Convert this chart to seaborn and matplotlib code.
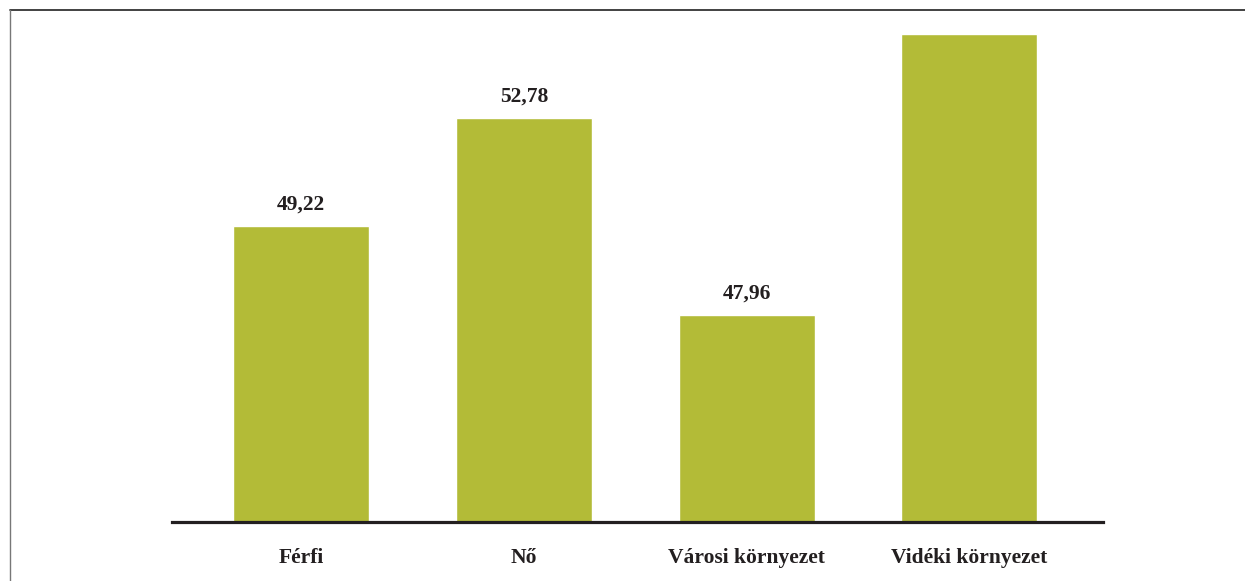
import matplotlib.pyplot as plt
import seaborn as sns
from matplotlib.lines import Line2D

# Categories and values as printed on the chart
categories = ['Férfi', 'Nő', 'Városi környezet', 'Vidéki környezet']
value_labels = ['49,22', '52,78', '47,96', '']
# Bar heights as drawn (the printed values do not share one linear scale)
bar_heights = [29.6, 40.4, 20.7, 48.8]

bar_color = '#b3bb37'
text_color = '#231f20'

sns.set_theme(style='white')
plt.rcParams['font.family'] = ['Liberation Serif', 'DejaVu Serif']

fig = plt.figure(figsize=(12.45, 5.81), dpi=100)
ax = fig.add_axes([0.1382, 0.1015, 0.7478, 0.8812])

sns.barplot(x=categories, y=bar_heights, color=bar_color, width=0.61,
            saturation=1, ax=ax)

ax.set_ylim(0, 51.2)
ax.set_xlim(-0.58, 3.6)

# value labels above the bars
ax.bar_label(ax.containers[0], labels=value_labels, padding=8,
             fontsize=15.5, fontweight='bold', color=text_color)

# styling: only the thick baseline
for side in ['top', 'right', 'left']:
    ax.spines[side].set_visible(False)
ax.spines['bottom'].set_color(text_color)
ax.spines['bottom'].set_linewidth(2.3)
ax.set_yticks([])
ax.set_ylabel('')
ax.set_xlabel('')
ax.tick_params(axis='x', length=0, pad=19, labelsize=15.5, colors=text_color)
for lbl in ax.get_xticklabels():
    lbl.set_fontweight('bold')

# page frame: top and left rules
fig.add_artist(Line2D([10 / 1245, 1.0], [1 - 10 / 581, 1 - 10 / 581],
                      color='#333333', linewidth=1.3, transform=fig.transFigure))
fig.add_artist(Line2D([10 / 1245, 10 / 1245], [0.0, 1 - 10 / 581],
                      color='#777777', linewidth=1.0, transform=fig.transFigure))

plt.savefig('out.png', dpi=100)
